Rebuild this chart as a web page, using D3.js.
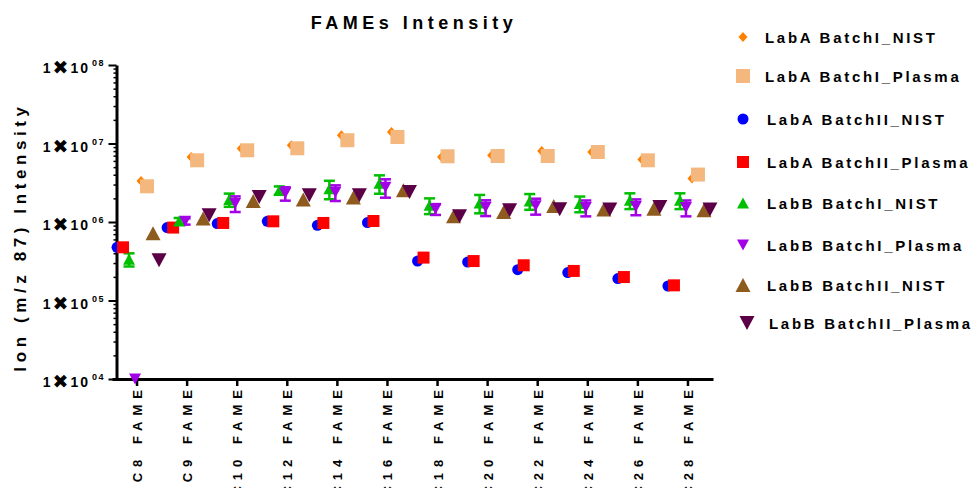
<!DOCTYPE html>
<meta charset="utf-8">
<html>
<style>
body { margin: 0; background: #fff; }
text { font-family: "Liberation Sans", Arial, sans-serif; font-weight: bold; fill: #000; }
.axis path, .axis line { stroke: #000; }
</style>
<body>
<svg width="977" height="488"></svg>
<script src="https://d3js.org/d3.v7.min.js"></script>
<script>
// categories and series
var categories = ["C8 FAME", "C9 FAME", "C10 FAME", "C12 FAME", "C14 FAME", "C16 FAME",
                  "C18 FAME", "C20 FAME", "C22 FAME", "C24 FAME", "C26 FAME", "C28 FAME"];
var seriesNames = ["LabA BatchI_NIST", "LabA BatchI_Plasma", "LabA BatchII_NIST", "LabA BatchII_Plasma",
                   "LabB BatchI_NIST", "LabB BatchI_Plasma", "LabB BatchII_NIST", "LabB BatchII_Plasma"];

var labA_BatchI_NIST    = [3.33e6, 6.73e6, 8.61e6, 9.48e6, 1.27e7, 1.40e7, 6.73e6, 7.08e6, 8.02e6, 7.79e6, 6.24e6, 3.57e6];
var labA_BatchI_Plasma  = [2.85e6, 6.11e6, 8.19e6, 8.69e6, 1.10e7, 1.21e7, 6.87e6, 6.93e6, 6.93e6, 7.79e6, 6.11e6, 4.02e6];
var labA_BatchII_NIST   = [4.76e5, 8.49e5, 9.55e5, 1.02e6, 9.08e5, 9.83e5, 3.18e5, 3.09e5, 2.47e5, 2.27e5, 1.90e5, 1.53e5];
var labA_BatchII_Plasma = [4.76e5, 8.49e5, 9.72e5, 1.02e6, 9.72e5, 1.03e6, 3.52e5, 3.18e5, 2.81e5, 2.38e5, 1.99e5, 1.56e5];
var labB_BatchI_NIST    = [3.35e5, 1.03e6, 1.93e6, 2.53e6, 2.65e6, 3.11e6, 1.63e6, 1.75e6, 1.85e6, 1.72e6, 1.89e6, 1.89e6];
var labB_BatchI_NIST_sd = [6.4e4, 9.5e4, 3.7e5, 3.1e5, 7.0e5, 8.2e5, 3.7e5, 4.6e5, 4.2e5, 3.9e5, 4.3e5, 4.3e5];
var labB_BatchI_Plasma  = [1.0e4, 1.02e6, 1.73e6, 2.32e6, 2.39e6, 2.77e6, 1.46e6, 1.54e6, 1.61e6, 1.53e6, 1.58e6, 1.53e6];
var labB_BatchI_Plasma_sd = [0, 9.4e4, 3.9e5, 4.5e5, 5.4e5, 7.3e5, 2.3e5, 3.5e5, 3.7e5, 3.5e5, 3.6e5, 3.5e5];
var labB_BatchII_NIST   = [7.18e5, 1.11e6, 1.85e6, 1.93e6, 2.05e6, 2.53e6, 1.18e6, 1.34e6, 1.60e6, 1.44e6, 1.48e6, 1.41e6];
var labB_BatchII_Plasma = [3.25e5, 1.22e6, 2.08e6, 2.19e6, 2.19e6, 2.41e6, 1.18e6, 1.41e6, 1.45e6, 1.44e6, 1.55e6, 1.44e6];

var yTickExps = ["04", "05", "06", "07", "08"];

// style per series (legend order)
var series = [
  {name: seriesNames[0], values: labA_BatchI_NIST,    color: "#FF8000", shape: "diamond", w: 9,  h: 10, slot: 4},
  {name: seriesNames[1], values: labA_BatchI_Plasma,  color: "#F4B77E", shape: "square",  w: 14, h: 14, slot: 5},
  {name: seriesNames[2], values: labA_BatchII_NIST,   color: "#0000FF", shape: "circle",  w: 11, h: 11, slot: 0},
  {name: seriesNames[3], values: labA_BatchII_Plasma, color: "#FF0000", shape: "square",  w: 12, h: 12, slot: 1},
  {name: seriesNames[4], values: labB_BatchI_NIST,    color: "#00BF00", shape: "up",      w: 12, h: 11, slot: 2, sd: labB_BatchI_NIST_sd},
  {name: seriesNames[5], values: labB_BatchI_Plasma,  color: "#A300E8", shape: "down",    w: 12, h: 11, slot: 3, sd: labB_BatchI_Plasma_sd},
  {name: seriesNames[6], values: labB_BatchII_NIST,   color: "#8E5B1E", shape: "up",      w: 15, h: 14, slot: 6},
  {name: seriesNames[7], values: labB_BatchII_Plasma, color: "#5B0047", shape: "down",    w: 15, h: 14, slot: 7}
];

function shapePath(s, w, h) {
  var a = w / 2, b = h / 2;
  if (s == "circle") return "M" + a + ",0A" + a + "," + a + " 0 1,1 " + (-a) + ",0A" + a + "," + a + " 0 1,1 " + a + ",0Z";
  if (s == "square") return "M" + (-a) + "," + (-b) + "H" + a + "V" + b + "H" + (-a) + "Z";
  if (s == "diamond") return "M0," + (-b) + "L" + a + ",0L0," + b + "L" + (-a) + ",0Z";
  if (s == "up") return "M0," + (-b) + "L" + a + "," + b + "L" + (-a) + "," + b + "Z";
  return "M0," + b + "L" + a + "," + (-b) + "L" + (-a) + "," + (-b) + "Z";
}

var svg = d3.select("svg");

var x = d3.scaleBand().domain(categories).range([112, 713]);
var y = d3.scaleLog().domain([1e4, 1e8]).range([379, 65]);
var slotStep = 6;
function px(i, slot) { return x(categories[i]) + x.bandwidth() / 2 + (slot - 3.5) * slotStep + 1; }

// title
svg.append("text")
  .attr("x", 414).attr("y", 29)
  .attr("text-anchor", "middle")
  .style("font-size", "18px").style("letter-spacing", "4.5px")
  .text("FAMEs Intensity");

// y axis title
svg.append("text")
  .attr("transform", "translate(26,237) rotate(-90)")
  .attr("text-anchor", "middle")
  .style("font-size", "17px").style("letter-spacing", "4.6px")
  .text("Ion (m/z 87) Intensity");

// minor ticks
var minors = [];
for (var e = 4; e < 8; e++) for (var k = 2; k < 10; k++) minors.push(k * Math.pow(10, e));

svg.append("g")
  .attr("class", "axis")
  .attr("transform", "translate(116.5,0)")
  .call(d3.axisLeft(y).tickValues(minors).tickSize(3).tickSizeOuter(0).tickFormat(""))
  .call(function(g) { g.select(".domain").remove(); g.selectAll("line").attr("stroke-width", 1.5); });

var yAxis = svg.append("g")
  .attr("class", "axis")
  .attr("transform", "translate(116.5,0)")
  .call(d3.axisLeft(y).tickValues([1e4, 1e5, 1e6, 1e7, 1e8]).tickSize(8).tickSizeOuter(0).tickFormat(""));
yAxis.select(".domain").attr("stroke-width", 3);
yAxis.selectAll("line").attr("stroke-width", 2);

// tick labels 1x10^nn
var tl = svg.append("g");
[1e4, 1e5, 1e6, 1e7, 1e8].forEach(function(v, i) {
  var t = tl.append("text")
    .attr("x", 90).attr("y", y(v) + 8)
    .attr("text-anchor", "end")
    .style("font-size", "14px").style("letter-spacing", "2px");
  t.append("tspan").text("1");
  t.append("tspan").style("font-family", "DejaVu Sans").style("font-size", "19px").attr("dy", 1).text("\u2716");
  t.append("tspan").attr("dy", -1).text("10");
  tl.append("text")
    .attr("x", 92).attr("y", y(v) + 1)
    .style("font-size", "9px").style("letter-spacing", "1.5px")
    .text(yTickExps[i]);
});

// x axis
var xAxis = svg.append("g")
  .attr("class", "axis")
  .attr("transform", "translate(0,379)")
  .call(d3.axisBottom(x).tickSize(7).tickSizeOuter(0).tickFormat(""));
xAxis.select(".domain").attr("stroke-width", 3);
xAxis.selectAll("line").attr("stroke-width", 2.5);

svg.append("g").selectAll("text")
  .data(categories)
  .join("text")
  .attr("transform", function(d) { return "translate(" + (x(d) + x.bandwidth() / 2 + 5) + ",384) rotate(-90)"; })
  .attr("text-anchor", "end")
  .style("font-size", "13px").style("letter-spacing", "6px")
  .text(function(d) { return d; });

// error bars
series.forEach(function(s) {
  if (!s.sd) return;
  var g = svg.append("g").attr("stroke", s.color).attr("stroke-width", 2.5).attr("fill", "none");
  s.values.forEach(function(v, i) {
    if (!s.sd[i]) return;
    var cx = px(i, s.slot);
    var hi = y(v + s.sd[i]), lo = y(Math.max(v - s.sd[i], 1e4));
    g.append("line").attr("x1", cx).attr("x2", cx).attr("y1", hi).attr("y2", lo);
    g.append("line").attr("x1", cx - 5.5).attr("x2", cx + 5.5).attr("y1", hi).attr("y2", hi);
    g.append("line").attr("x1", cx - 5.5).attr("x2", cx + 5.5).attr("y1", lo).attr("y2", lo);
  });
});

// markers
series.forEach(function(s) {
  svg.append("g").selectAll("path")
    .data(s.values)
    .join("path")
    .attr("transform", function(d, i) { return "translate(" + px(i, s.slot) + "," + y(d) + ")"; })
    .attr("d", shapePath(s.shape, s.w, s.h))
    .attr("fill", s.color);
});

// legend
var legendY = [37, 76, 119, 162, 203, 245, 285, 323];
var legend = svg.append("g");
series.forEach(function(s, i) {
  var sx = i == 7 ? 747 : 743;
  legend.append("path")
    .attr("transform", "translate(" + sx + "," + legendY[i] + ")")
    .attr("d", shapePath(s.shape, s.w, s.h))
    .attr("fill", s.color);
  legend.append("text")
    .attr("x", i == 7 ? 769 : (i < 2 ? 765 : 767)).attr("y", legendY[i] + 5.5)
    .style("font-size", "15px").style("letter-spacing", "2.7px")
    .text(s.name);
});
</script>
</body>
</html>
